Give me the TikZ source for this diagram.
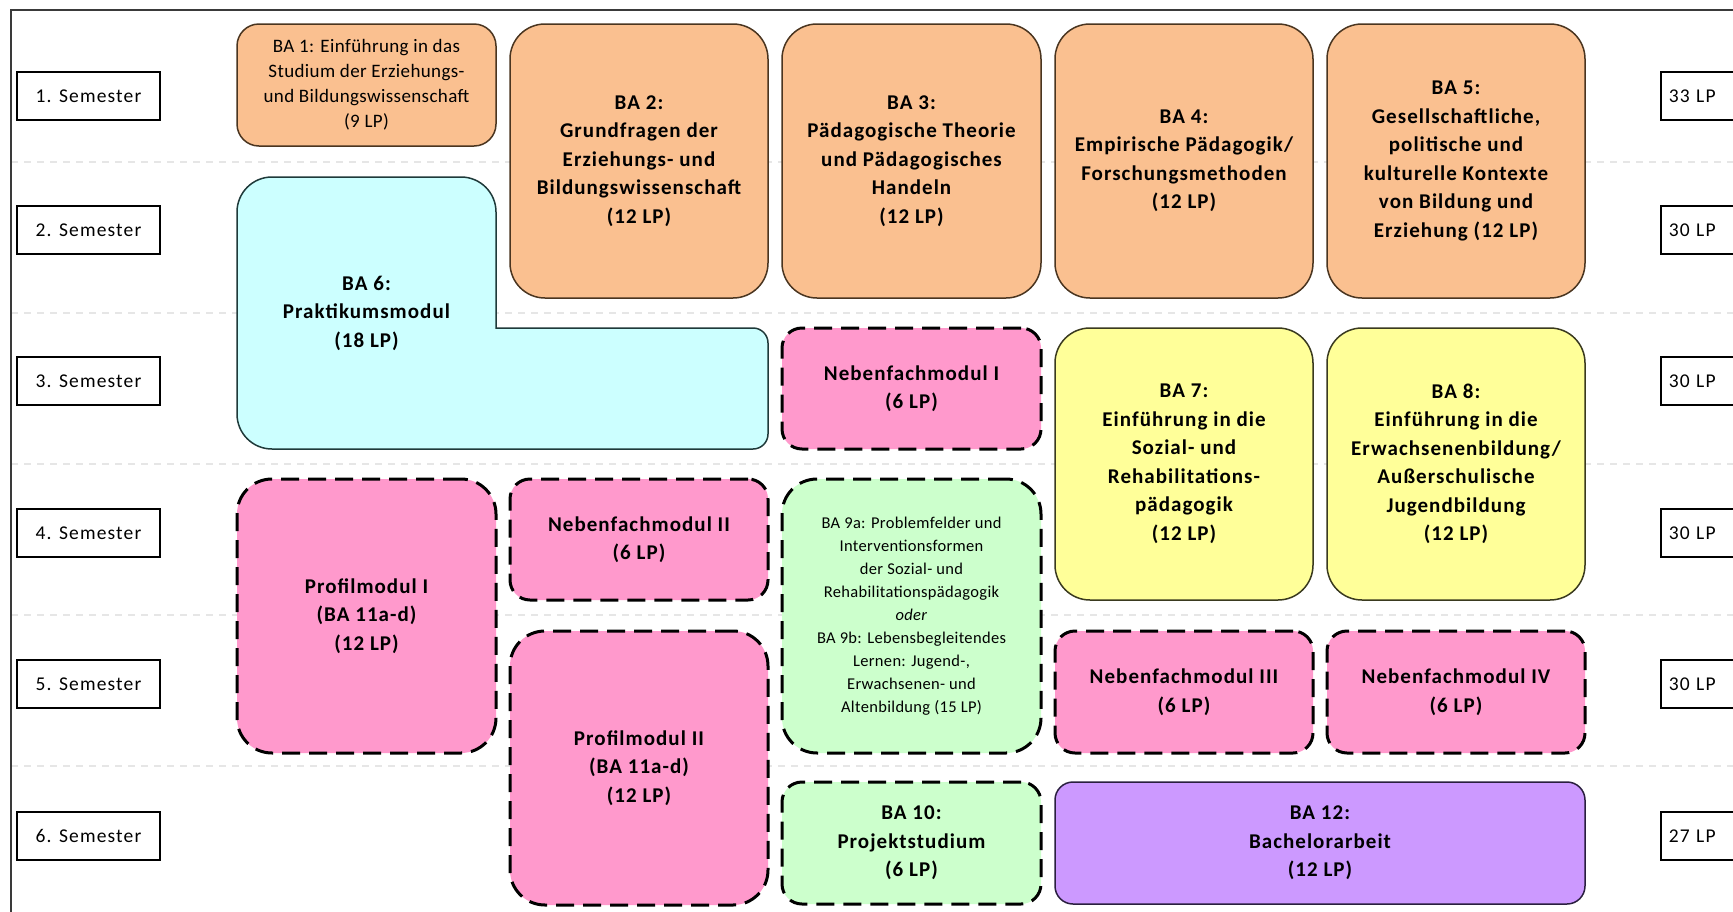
\documentclass[tikz,border=0pt]{standalone}
\usepackage{fontspec}
\setmainfont{Carlito}
\newfontfamily\modfam[LetterSpace=5]{Carlito}
\newfontfamily\labfam[LetterSpace=6]{Carlito}
\newfontfamily\smallfam[LetterSpace=2]{Carlito}
\newcommand\modbold{\modfam\fontsize{21}{28.5}\selectfont\bfseries}
\newcommand\modreg{\smallfam\fontsize{19}{25}\selectfont}
\newcommand\modsmall{\smallfam\fontsize{16.5}{23}\selectfont}
\newcommand\semfnt{\labfam\fontsize{19.5}{24}\selectfont}
\definecolor{orangef}{HTML}{FAC090}
\definecolor{orangeb}{HTML}{4A3520}
\definecolor{cyanf}{HTML}{CCFFFF}
\definecolor{cyanb}{HTML}{1F3A3A}
\definecolor{yellowf}{HTML}{FFFF99}
\definecolor{yellowb}{HTML}{3A3A1F}
\definecolor{pinkf}{HTML}{FF99CC}
\definecolor{greenf}{HTML}{CCFFCC}
\definecolor{purplef}{HTML}{CC99FF}
\definecolor{purpleb}{HTML}{2A1F3F}
\definecolor{framec}{HTML}{3A3A3A}
\definecolor{sepc}{HTML}{E6E6E6}
\begin{document}
\begin{tikzpicture}[x=1pt,y=-1pt,
  box/.style={rectangle, inner sep=0pt, align=center, text=black, font=\modbold},
  obox/.style={box, draw=orangeb, fill=orangef, line width=1.5pt, rounded corners=35pt},
  ybox/.style={box, draw=yellowb, fill=yellowf, line width=1.5pt, rounded corners=35pt},
  pbox/.style={box, draw=purpleb, fill=purplef, line width=1.5pt, rounded corners=18pt},
  dashbox/.style={box, draw=black, line width=3pt, dash pattern=on 18pt off 9pt},
  pinkbox/.style={dashbox, fill=pinkf},
  greenbox/.style={dashbox, fill=greenf},
  semb/.style={rectangle, draw=black, line width=1.5pt, minimum width=143pt, minimum height=48pt, inner sep=0pt, font=\semfnt},
  lpb/.style={rectangle, draw=black, line width=1.5pt, minimum height=48pt, text width=80pt, inner xsep=8pt, inner ysep=0pt, align=left, anchor=west, font=\semfnt},
  sepline/.style={draw=sepc, line width=1.5pt, dash pattern=on 7pt off 6pt}
]
\useasboundingbox (0,0) rectangle (1733,911);
\clip (0,0) rectangle (1733,911);
\fill[white] (0,0) rectangle (1733,911);
% separators
\foreach \yy in {162,313,464,615,766} { \draw[sepline] (11,\yy) -- (1745,\yy); }
% frame
\draw[framec, line width=2pt] (11,10) rectangle (1760,930);

% semester labels
\node[semb] (s1) at (88.5,96) {1. Semester};
\node[semb] (s2) at (88.5,230) {2. Semester};
\node[semb] (s3) at (88.5,381) {3. Semester};
\node[semb] (s4) at (88.5,533) {4. Semester};
\node[semb] (s5) at (88.5,684) {5. Semester};
\node[semb] (s6) at (88.5,836) {6. Semester};

% LP labels
\node[lpb] (l1) at (1660,96) {33 LP};
\node[lpb] (l2) at (1660,230) {30 LP};
\node[lpb] (l3) at (1660,381) {30 LP};
\node[lpb] (l4) at (1660,533) {30 LP};
\node[lpb] (l5) at (1660,684) {30 LP};
\node[lpb] (l6) at (1660,836) {27 LP};

% row 1-2
\node[obox, rounded corners=22pt, minimum width=259pt, minimum height=122pt, font=\modreg] (ba1) at (366.5,85)
  {BA 1: Einführung in das\\Studium der Erziehungs-\\und Bildungswissenschaft\\(9 LP)};
\node[obox, minimum width=258pt, minimum height=274pt] (ba2) at (639,161)
  {BA 2:\\Grundfragen der\\Erziehungs- und\\Bildungswissenschaft\\(12 LP)};
\node[obox, minimum width=259pt, minimum height=274pt] (ba3) at (911.5,161)
  {BA 3:\\Pädagogische Theorie\\und Pädagogisches\\Handeln\\(12 LP)};
\node[obox, minimum width=258pt, minimum height=274pt] (ba4) at (1184,161)
  {BA 4:\\Empirische Pädagogik/\\Forschungsmethoden\\(12 LP)};
\node[obox, minimum width=258pt, minimum height=274pt] (ba5) at (1456,161)
  {BA 5:\\Gesellschaftliche,\\politische und\\kulturelle Kontexte\\von Bildung und\\Erziehung (12 LP)};

% BA 6 L-shape
\draw[fill=cyanf, draw=cyanb, line width=1.5pt]
  (237,212) arc[start angle=180, end angle=90, radius=35pt]
  -- (461,177) arc[start angle=90, end angle=0, radius=35pt]
  -- (496,328)
  -- (753,328) arc[start angle=90, end angle=0, radius=15pt]
  -- (768,434) arc[start angle=0, end angle=-90, radius=15pt]
  -- (272,449) arc[start angle=-90, end angle=-180, radius=35pt]
  -- cycle;
\node[box] (ba6) at (366.5,313) {BA 6:\\Praktikumsmodul\\(18 LP)};

% row 3-4
\node[pinkbox, rounded corners=20pt, minimum width=259pt, minimum height=121pt] (nf1) at (911.5,388.5)
  {Nebenfachmodul I\\(6 LP)};
\node[ybox, minimum width=258pt, minimum height=272pt] (ba7) at (1184,464)
  {BA 7:\\Einführung in die\\Sozial- und\\Rehabilitations-\\pädagogik\\(12 LP)};
\node[ybox, minimum width=258pt, minimum height=272pt] (ba8) at (1456,464)
  {BA 8:\\Einführung in die\\Erwachsenenbildung/\\Außerschulische\\Jugendbildung\\(12 LP)};

% row 4-5
\node[pinkbox, rounded corners=35pt, minimum width=259pt, minimum height=274pt] (pm1) at (366.5,616)
  {Profilmodul I\\(BA 11a-d)\\(12 LP)};
\node[pinkbox, rounded corners=20pt, minimum width=258pt, minimum height=121pt] (nf2) at (639,539.5)
  {Nebenfachmodul II\\(6 LP)};
\node[greenbox, rounded corners=35pt, minimum width=259pt, minimum height=274pt, font=\modsmall] (ba9) at (911.5,616)
  {BA 9a: Problemfelder und\\Interventionsformen\\der Sozial- und\\Rehabilitationspädagogik\\\textit{oder}\\BA 9b: Lebensbegleitendes\\Lernen: Jugend-,\\Erwachsenen- und\\Altenbildung (15 LP)};

% row 5-6
\node[pinkbox, rounded corners=35pt, minimum width=258pt, minimum height=274pt] (pm2) at (639,768)
  {Profilmodul II\\(BA 11a-d)\\(12 LP)};
\node[pinkbox, rounded corners=20pt, minimum width=258pt, minimum height=122pt] (nf3) at (1184,692)
  {Nebenfachmodul III\\(6 LP)};
\node[pinkbox, rounded corners=20pt, minimum width=258pt, minimum height=122pt] (nf4) at (1456,692)
  {Nebenfachmodul IV\\(6 LP)};
\node[greenbox, rounded corners=20pt, minimum width=259pt, minimum height=122pt] (ba10) at (911.5,843)
  {BA 10:\\Projektstudium\\(6 LP)};
\node[pbox, minimum width=530pt, minimum height=122pt] (ba12) at (1320,843)
  {BA 12:\\Bachelorarbeit\\(12 LP)};
\end{tikzpicture}
\end{document}
